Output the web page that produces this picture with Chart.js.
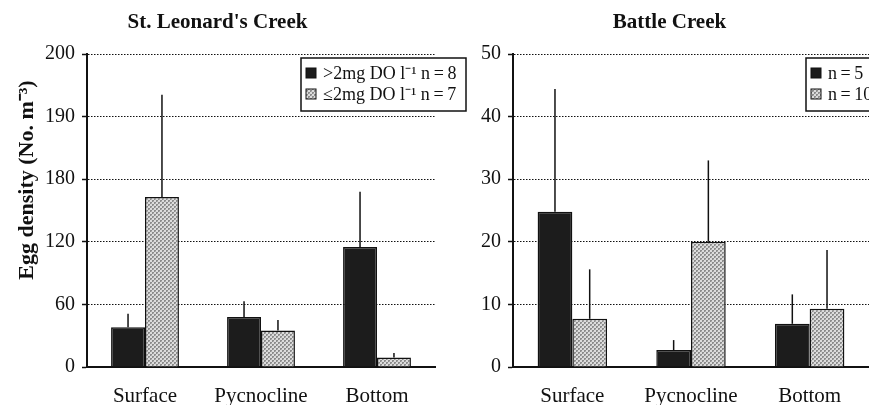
<!DOCTYPE html>
<html>
<head>
<meta charset="utf-8">
<script src="https://cdn.jsdelivr.net/npm/chart.js@4"></script>
<style>
  body { margin: 0; background: #fff; }
  #wrap { position: relative; width: 869px; height: 405px; overflow: hidden; }
  .box { position: absolute; top: 0; height: 405px; }
</style>
</head>
<body>
<div id="wrap">
  <div class="box" style="left:0;width:470px"><canvas id="left-chart"></canvas></div>
  <div class="box" style="left:470px;width:399px"><canvas id="right-chart"></canvas></div>
</div>
<script>
const categories = ["Surface", "Pycnocline", "Bottom"];

// St. Leonard's Creek (broken axis: 0-180 by 60, then 190, 200)
const leftTicks = [0, 60, 120, 180, 190, 200];
const leonardHigh = [38, 48, 115];
const leonardHighErr = [13, 15, 53];
const leonardLow = [163, 35, 9];
const leonardLowErr = [30.5, 10, 4.5];

// Battle Creek
const rightTicks = [0, 10, 20, 30, 40, 50];
const battleHigh = [24.8, 2.7, 6.9];
const battleHighErr = [19.6, 1.6, 4.7];
const battleLow = [7.7, 20, 9.3];
const battleLowErr = [7.9, 13, 9.4];

const FONT = "'Liberation Serif', 'Times New Roman', serif";
Chart.defaults.font.family = FONT;
Chart.defaults.color = "#111";
Chart.defaults.animation = false;

// value -> position along tick index (handles the broken axis)
function toAxis(v, ticks) {
    for (let i = 1; i < ticks.length; i++) {
        if (v <= ticks[i]) {
            return i - 1 + (v - ticks[i - 1]) / (ticks[i] - ticks[i - 1]);
        }
    }
    return ticks.length - 1;
}

function grayPattern() {
    const c = document.createElement("canvas");
    c.width = 4; c.height = 4;
    const g = c.getContext("2d");
    g.fillStyle = "#dcdcdc"; g.fillRect(0, 0, 4, 4);
    g.fillStyle = "#8c8c8c"; g.fillRect(0, 0, 2, 2); g.fillRect(2, 2, 2, 2);
    g.fillStyle = "#b0b0b0"; g.fillRect(1, 1, 1, 1); g.fillRect(3, 3, 1, 1);
    return g.createPattern(c, "repeat");
}
const gray = grayPattern();

const errorBars = {
    id: "errorBars",
    afterDatasetsDraw(chart) {
        const ctx = chart.ctx;
        const y = chart.scales.y;
        ctx.save();
        ctx.strokeStyle = "#111";
        ctx.lineWidth = 1.5;
        chart.data.datasets.forEach((ds, di) => {
            chart.getDatasetMeta(di).data.forEach((bar, i) => {
                const top = y.getPixelForValue(ds.errTop[i]);
                ctx.beginPath();
                ctx.moveTo(bar.x, bar.y);
                ctx.lineTo(bar.x, top);
                ctx.stroke();
            });
        });
        ctx.restore();
    },
};

const boxLegend = {
    id: "boxLegend",
    afterDraw(chart, args, opts) {
        const ctx = chart.ctx;
        const a = chart.chartArea;
        const x = a.left + opts.dx, y0 = a.top + 4;
        ctx.save();
        ctx.fillStyle = "#fff";
        ctx.fillRect(x, y0, opts.w, 53);
        ctx.strokeStyle = "#111";
        ctx.lineWidth = 1.5;
        ctx.strokeRect(x, y0, opts.w, 53);
        ctx.font = "18px " + FONT;
        ctx.textBaseline = "middle";
        chart.data.datasets.forEach((ds, i) => {
            const cy = y0 + 16 + i * 21;
            ctx.fillStyle = ds.backgroundColor;
            ctx.fillRect(x + 5, cy - 6, 10, 10);
            ctx.lineWidth = 1;
            ctx.strokeRect(x + 5, cy - 6, 10, 10);
            ctx.fillStyle = "#111";
            ctx.fillText(ds.label, x + 22, cy);
        });
        ctx.restore();
    },
};

const yTitle = {
    id: "yTitle",
    afterDraw(chart, args, opts) {
        if (!opts.text) return;
        const ctx = chart.ctx;
        ctx.save();
        ctx.translate(27, 180);
        ctx.rotate(-Math.PI / 2);
        ctx.font = "bold 22px " + FONT;
        ctx.fillStyle = "#111";
        ctx.textAlign = "center";
        ctx.textBaseline = "middle";
        ctx.fillText(opts.text, 0, 0);
        ctx.restore();
    },
};

function makeChart(id, cfg) {
    const map = v => cfg.broken ? toAxis(v, cfg.ticks) : v;
    const sets = [
        { label: cfg.labels[0], vals: cfg.high, err: cfg.highErr, color: "#1c1c1c" },
        { label: cfg.labels[1], vals: cfg.low, err: cfg.lowErr, color: gray },
    ];
    return new Chart(document.getElementById(id), {
        type: "bar",
        data: {
            labels: categories,
            datasets: sets.map(s => ({
                label: s.label,
                data: s.vals.map(map),
                errTop: s.vals.map((v, i) => map(v + s.err[i])),
                backgroundColor: s.color,
                borderColor: "#111",
                borderWidth: 1.5,
                borderSkipped: "bottom",
                categoryPercentage: 0.585,
                barPercentage: 1.0,
            })),
        },
        options: {
            responsive: true,
            maintainAspectRatio: false,
            layout: { padding: { left: 0, right: cfg.padRight, top: 0, bottom: 0 } },
            scales: {
                x: {
                    grid: { display: false },
                    border: { display: true, color: "#111", width: 2 },
                    ticks: { font: { size: 21 }, padding: 9, color: "#111" },
                    afterFit(s) { s.height = 38; },
                },
                y: {
                    min: 0,
                    max: cfg.broken ? cfg.ticks.length - 1 : cfg.ticks[cfg.ticks.length - 1],
                    ticks: {
                        stepSize: cfg.broken ? 1 : 10,
                        font: { size: 20 },
                        padding: 7,
                        color: "#111",
                        callback: v => cfg.broken ? cfg.ticks[v] : v,
                    },
                    grid: {
                        color: "#111",
                        lineWidth: 1,
                        tickLength: 5,
                        tickColor: "#111",
                        tickWidth: 1.5,
                        tickBorderDash: [],
                    },
                    border: { display: true, color: "#111", width: 2, dash: [1.5, 1.5] },
                    afterFit(s) { s.width = cfg.axisWidth; },
                },
            },
            plugins: {
                legend: { display: false },
                tooltip: { enabled: false },
                title: {
                    display: true,
                    text: cfg.title,
                    font: { size: 21, weight: "bold" },
                    color: "#111",
                    padding: { top: 10, bottom: 18.8 },
                },
                boxLegend: { dx: cfg.legendDx, w: cfg.legendW },
                yTitle: { text: cfg.yTitle },
            },
        },
        plugins: [errorBars, boxLegend, yTitle],
    });
}

makeChart("left-chart", {
    title: "St. Leonard's Creek",
    yTitle: "Egg density (No. m\u207B\u00B3)",
    broken: true,
    ticks: leftTicks,
    high: leonardHigh, highErr: leonardHighErr,
    low: leonardLow, lowErr: leonardLowErr,
    labels: [">2mg DO l\u207B\u00B9 n\u2009=\u20098", "\u22642mg DO l\u207B\u00B9 n\u2009=\u20097"],
    axisWidth: 87,
    padRight: 35,
    legendDx: 214,
    legendW: 165,
});

makeChart("right-chart", {
    title: "Battle Creek",
    yTitle: "",
    broken: false,
    ticks: rightTicks,
    high: battleHigh, highErr: battleHighErr,
    low: battleLow, lowErr: battleLowErr,
    labels: ["n\u2009=\u20095", "n\u2009=\u200910"],
    axisWidth: 43,
    padRight: 0,
    legendDx: 293,
    legendW: 80,
});
</script>
</body>
</html>
